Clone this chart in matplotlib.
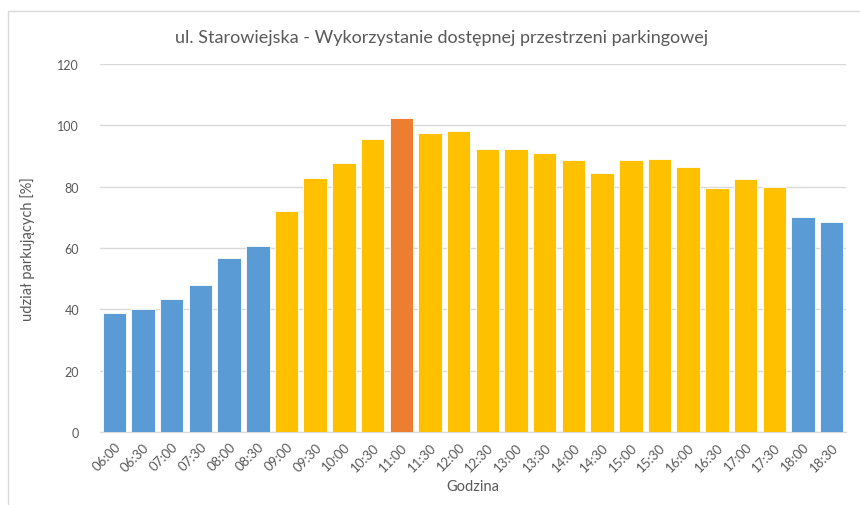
import matplotlib
matplotlib.use("Agg")
import matplotlib.pyplot as plt
from matplotlib.patches import Rectangle

hours = ["06:00", "06:30", "07:00", "07:30", "08:00", "08:30", "09:00", "09:30",
         "10:00", "10:30", "11:00", "11:30", "12:00", "12:30", "13:00", "13:30",
         "14:00", "14:30", "15:00", "15:30", "16:00", "16:30", "17:00", "17:30",
         "18:00", "18:30"]
values = [38.7, 40.0, 43.3, 47.8, 56.8, 60.7, 72.2, 82.8, 87.7, 95.5, 102.5, 97.6,
          98.0, 92.3, 92.3, 91.1, 88.6, 84.5, 88.6, 89.0, 86.5, 79.6, 82.5, 79.9,
          70.0, 68.4]
groups = ["off"] * 6 + ["peak"] * 4 + ["max"] + ["peak"] * 13 + ["off"] * 2
yticks = [0, 20, 40, 60, 80, 100, 120]

color_map = {"off": "#5B9BD5", "peak": "#FFC000", "max": "#ED7D31"}
colors = [color_map[g] for g in groups]

plt.rcParams['font.family'] = ['Lato', 'DejaVu Sans']
txt = "#595959"

fig = plt.figure(figsize=(8.6, 5.06), dpi=100)
fig.patch.set_facecolor("white")
fig.patches.append(Rectangle((8 / 860, -0.1), 1.2, 1 - 12 / 506 + 0.1,
                             transform=fig.transFigure, fill=False,
                             edgecolor="#D9D9D9", linewidth=1.0))

ax = fig.add_axes([100 / 860, 1 - 433 / 506, 746 / 860, 368 / 506])
x = list(range(len(hours)))
ax.bar(x, values, width=0.82, color=colors, edgecolor="white", linewidth=0.6, zorder=3)
ax.set_xlim(-0.5, len(hours) - 0.5)
ax.set_ylim(0, 120)
ax.set_yticks(yticks)
ax.set_yticklabels([str(v) for v in yticks], color=txt, fontsize=9)
ax.set_xticks(x)
ax.set_xticklabels(hours, rotation=45, ha="right", rotation_mode="anchor",
                   color=txt, fontsize=9.5)
ax.tick_params(axis="both", length=0)
ax.tick_params(axis="y", pad=15)
ax.tick_params(axis="x", pad=6)
ax.grid(axis="y", color="#D9D9D9", linewidth=1.0, zorder=0)
for s in ax.spines.values():
    s.set_visible(False)
ax.spines["bottom"].set_visible(True)
ax.spines["bottom"].set_color("#D9D9D9")

ax.set_xlabel("Godzina", color=txt, fontsize=10.5, labelpad=4)
ax.set_ylabel("udział parkujących [%]", color=txt, fontsize=10.5, labelpad=16)
fig.text(442 / 860, 1 - 38 / 506, "ul. Starowiejska - Wykorzystanie dostępnej przestrzeni parkingowej",
         ha="center", va="center", color=txt, fontsize=13)

fig.savefig("out.png", dpi=100, facecolor="white")
